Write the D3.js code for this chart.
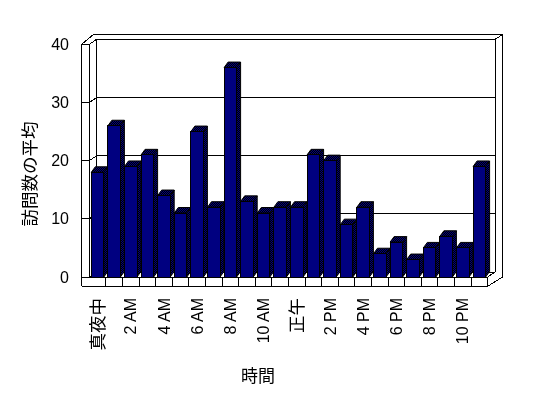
<!DOCTYPE html>
<html>
<head>
<meta charset="utf-8">
<script src="https://cdn.jsdelivr.net/npm/d3@7"></script>
<style>
  body { margin: 0; background: #fff; }
  svg { will-change: transform; }
  text { font-family: "Liberation Sans", Arial, "Noto Sans CJK JP", sans-serif; fill: #000; }
  .cjk { font-family: "Noto Sans CJK JP", sans-serif; }
</style>
</head>
<body>
<svg id="chart" width="548" height="398"></svg>
<script>
var hours = d3.range(24);
var visits = [18, 26, 19, 21, 14, 11, 25, 12, 36, 13, 11, 12, 12, 21, 20, 9, 12, 4, 6, 3, 5, 7, 5, 19];
var tickNames = ["真夜中", "2 AM", "4 AM", "6 AM", "8 AM", "10 AM", "正午", "2 PM", "4 PM", "6 PM", "8 PM", "10 PM"];
var yTicks = [0, 10, 20, 30, 40];

var svg = d3.select("#chart"),
    depth = [7.4, -5],     // floor / wall depth
    barDepth = [4, -5.5],  // column depth
    wall = 7.6;            // left wall thickness

var x = d3.scaleBand().domain(hours).range([89.3, 487.7]),
    y = d3.scaleLinear().domain([0, 40]).range([277, 44.3]);

var defs = svg.append("defs");
var pat = defs.append("pattern")
    .attr("id", "dither")
    .attr("width", 2).attr("height", 2)
    .attr("patternUnits", "userSpaceOnUse");
pat.append("rect").attr("width", 2).attr("height", 2).attr("fill", "#000");
pat.append("rect").attr("width", 1).attr("height", 1).attr("fill", "#000080");
pat.append("rect").attr("x", 1).attr("y", 1).attr("width", 1).attr("height", 1).attr("fill", "#000080");

var line = d3.line();
var frame = svg.append("g")
    .attr("fill", "none")
    .attr("stroke", "#000")
    .attr("stroke-width", 1)
    .attr("shape-rendering", "crispEdges");

var x0 = x.range()[0], x1 = x.range()[1],
    bx0 = x0 + depth[0], bx1 = x1 + depth[0],
    yTop = y(40), yBase = y(0), yFloor = yBase + 9.3;

// back wall, with its thickness
frame.append("path").attr("d", line([[bx0 - 3.4, yTop + 2 * depth[1] + 0.3], [bx1 + depth[0], yTop + 2 * depth[1] + 0.3],
    [bx1 + depth[0], yBase]]));
frame.append("path").attr("d", line([[bx1, yTop + depth[1]], [bx1 + depth[0], yTop + 2 * depth[1] + 0.3]]))
    .attr("shape-rendering", null);
frame.append("path").attr("d", line([[bx0, yBase + depth[1]], [bx0, yTop + depth[1]], [bx1, yTop + depth[1]], [bx1, yBase + depth[1]]]));

// gridlines on back wall and ticks on the left wall
yTicks.forEach(function(v) {
    frame.append("path").attr("d", line([[bx0, y(v) + depth[1]], [bx1, y(v) + depth[1]]]));
    if (v < 40) {
        frame.append("path").attr("d", line([[x0 - wall, y(v)], [x0, y(v)]]));
    }
    frame.append("path").attr("d", line([[x0, y(v)], [bx0, y(v) + depth[1]]])).attr("shape-rendering", null);
});

// left wall
frame.append("path").attr("d", line([[x0 - wall, yFloor], [x0 - wall, yTop], [x0, yTop], [x0, yBase]]));
frame.append("path").attr("d", line([[x0 - wall, yTop], [bx0 - 3.4, yTop + 2 * depth[1] + 0.3]])).attr("shape-rendering", null);

// floor
frame.append("path").attr("d", line([[x0 - wall, yFloor], [x1, yFloor], [x1, yBase], [x0, yBase]]));
frame.append("path").attr("d", line([[x1, yBase], [bx1, yBase + depth[1]]])).attr("shape-rendering", null);
frame.append("path").attr("d", line([[x1, yFloor], [bx1 + depth[0], yBase]])).attr("shape-rendering", null);
hours.slice(1).forEach(function(h) {
    frame.append("path").attr("d", line([[x(h), yBase], [x(h), yFloor]]));
});

// columns
var bw = 12.5, off = 2;
var bars = svg.append("g").attr("stroke", "#000").attr("stroke-width", 1);
hours.forEach(function(h, i) {
    var l = x(h) + off, r = l + bw, t = y(visits[i]), b = y(0);
    var g = bars.append("g");
    g.append("path")
        .attr("fill", "url(#dither)")
        .attr("d", line([[r, t], [r + barDepth[0], t + barDepth[1]], [r + barDepth[0], b + barDepth[1]], [r, b]]) + "Z");
    g.append("path")
        .attr("fill", "url(#dither)")
        .attr("d", line([[l, t], [l + barDepth[0], t + barDepth[1]], [r + barDepth[0], t + barDepth[1]], [r, t]]) + "Z");
    g.append("rect")
        .attr("x", l).attr("y", t)
        .attr("width", bw).attr("height", b - t)
        .attr("fill", "#000080")
        .attr("shape-rendering", "crispEdges");
});

// y tick labels
svg.append("g").selectAll("text")
    .data(yTicks)
    .enter().append("text")
    .attr("x", 69)
    .attr("y", function(d) { return y(d); })
    .attr("dy", "0.35em")
    .attr("text-anchor", "end")
    .style("font-size", "16px")
    .text(function(d) { return d; });

// x tick labels, every other hour
svg.append("g").selectAll("text")
    .data(tickNames)
    .enter().append("text")
    .attr("class", function(d) { return /[A-Z]/.test(d) ? null : "cjk"; })
    .attr("transform", function(d, i) {
        return "translate(" + (x(i * 2) + x.bandwidth() / 2) + ",298) rotate(-90)";
    })
    .attr("dy", "0.35em")
    .attr("text-anchor", "end")
    .style("font-size", function(d) { return /[A-Z]/.test(d) ? "16px" : "17.5px"; })
    .text(function(d) { return d; });

// axis titles
svg.append("text")
    .attr("class", "cjk")
    .attr("transform", "translate(30,174) rotate(-90)")
    .attr("dy", "0.35em")
    .attr("text-anchor", "middle")
    .style("font-size", "17.5px")
    .text("訪問数の平均");

svg.append("text")
    .attr("class", "cjk")
    .attr("x", 258)
    .attr("y", 376)
    .attr("dy", "0.35em")
    .attr("text-anchor", "middle")
    .style("font-size", "17px")
    .text("時間");
</script>
</body>
</html>
